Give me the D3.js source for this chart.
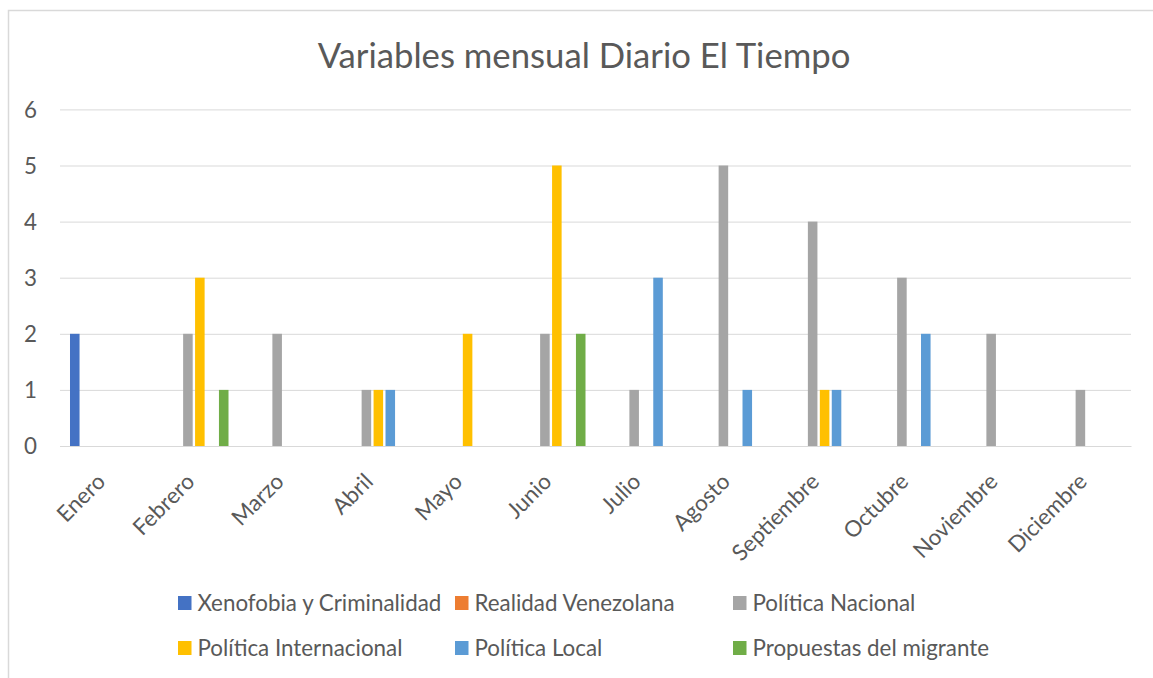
<!DOCTYPE html>
<html>
<head>
<meta charset="utf-8">
<script src="https://cdn.jsdelivr.net/npm/d3@7"></script>
<style>
  html, body { margin: 0; padding: 0; background: #fff; }
  svg { display: block; }
  text { font-family: Lato, "Open Sans", sans-serif; fill: #595959; }
</style>
</head>
<body>
<svg id="chart" width="1153" height="678"></svg>
<script>
const title = "Variables mensual Diario El Tiempo";
const months = ["Enero","Febrero","Marzo","Abril","Mayo","Junio","Julio","Agosto","Septiembre","Octubre","Noviembre","Diciembre"];
const seriesNames = ["Xenofobia y Criminalidad","Realidad Venezolana","Política Nacional","Política Internacional","Política Local","Propuestas del migrante"];
const seriesColors = ["#4472C4","#ED7D31","#A5A5A5","#FFC000","#5B9BD5","#70AD47"];
const xenofobia     = [2,0,0,0,0,0,0,0,0,0,0,0];
const realidad      = [0,0,0,0,0,0,0,0,0,0,0,0];
const nacional      = [0,2,2,1,0,2,1,5,4,3,2,1];
const internacional = [0,3,0,1,2,5,0,0,1,0,0,0];
const local         = [0,0,0,1,0,0,3,1,1,2,0,0];
const propuestas    = [0,1,0,0,0,2,0,0,0,0,0,0];
const yTicks = [0,1,2,3,4,5,6];

const seriesValues = [xenofobia, realidad, nacional, internacional, local, propuestas];

const svg = d3.select("#chart");

// outer chart border
svg.append("rect").attr("x", 8.5).attr("y", 10.5).attr("width", 1300).attr("height", 800)
  .attr("fill", "#fff").attr("stroke", "#d9d9d9").attr("stroke-width", 1.5);

const plot = {left: 60, right: 1131, top: 109.4, bottom: 446};

const x0 = d3.scaleBand().domain(months).range([plot.left, plot.right]).padding(0);
const bw = x0.bandwidth();
const x1 = d3.scaleBand().domain(seriesNames).range([bw * 0.112, bw * 0.888]).paddingInner(0.2).paddingOuter(0);
const y = d3.scaleLinear().domain([0, 6]).range([plot.bottom, plot.top]);

// fit helper
function fitSize(text, target, base, weight) {
  const t = svg.append("text").style("font-size", base + "px").style("font-weight", weight || 400).text(text);
  const len = t.node().getComputedTextLength();
  t.remove();
  return base * target / len;
}
const labelSize = fitSize("Xenofobia y Criminalidad", 244, 20);
const titleSize = fitSize(title, 533, 30);

// gridlines
const yAxis = d3.axisLeft(y).tickValues(yTicks).tickSize(-(plot.right - plot.left)).tickFormat(d3.format("d"));
const gy = svg.append("g").attr("transform", `translate(${plot.left},0)`).call(yAxis);
gy.select(".domain").remove();
gy.selectAll(".tick line").attr("stroke", "#d9d9d9").attr("stroke-width", 1);
gy.selectAll(".tick text").attr("x", -23).attr("dy", "0.35em")
  .style("font-size", labelSize + "px").attr("fill", "#595959");

// bars
const groups = svg.append("g").selectAll("g").data(months).join("g")
  .attr("transform", d => `translate(${x0(d)},0)`);
groups.selectAll("rect")
  .data((m, i) => seriesNames.map((s, k) => ({s, k, v: seriesValues[k][i]})).filter(d => d.v > 0))
  .join("rect")
  .attr("x", d => x1(d.s))
  .attr("width", x1.bandwidth())
  .attr("y", d => y(d.v))
  .attr("height", d => y(0) - y(d.v))
  .attr("fill", d => seriesColors[d.k]);

// x axis labels
const xAxis = d3.axisBottom(x0).tickSize(0);
const gx = svg.append("g").attr("transform", `translate(0,${plot.bottom})`).call(xAxis);
gx.select(".domain").attr("stroke", "#d9d9d9");
gx.selectAll(".tick text")
  .attr("y", 0).attr("dy", 0)
  .attr("text-anchor", "end")
  .attr("transform", "translate(2,37) rotate(-45)")
  .style("font-size", labelSize + "px").attr("fill", "#595959");

// title
svg.append("text").attr("x", 584).attr("y", 68).attr("text-anchor", "middle")
  .style("font-size", titleSize + "px").style("font-weight", 400).text(title);

// legend
const legCols = [178, 455, 733];
const legRows = [603, 648];
const leg = svg.append("g").selectAll("g").data(seriesNames).join("g")
  .attr("transform", (d, i) => `translate(${legCols[i % 3]},${legRows[Math.floor(i / 3)]})`);
leg.append("rect").attr("x", 0).attr("y", -7).attr("width", 13.5).attr("height", 14)
  .attr("fill", (d, i) => seriesColors[i]);
leg.append("text").attr("x", 19.5).attr("y", 0).attr("dy", "0.35em")
  .style("font-size", labelSize + "px").text(d => d);
</script>
</body>
</html>
